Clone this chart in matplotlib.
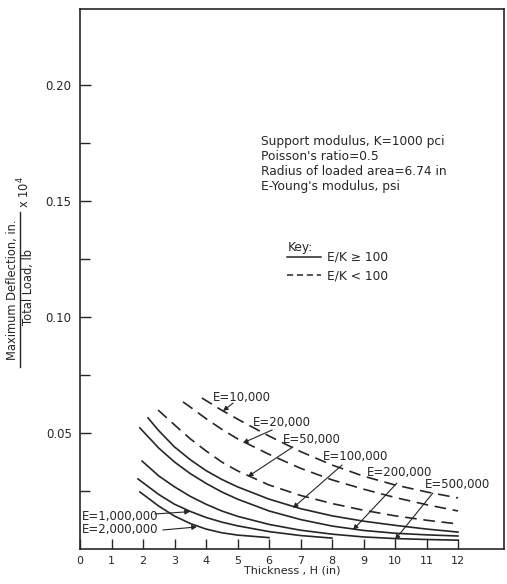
import matplotlib
matplotlib.use("Agg")
import matplotlib.pyplot as plt
from matplotlib.lines import Line2D

# curves: thickness H (in) vs deflection / load (x 10^4)
h_10k = [3.87, 4.5, 5, 6, 7, 8, 9, 10, 11, 12]
d_10k = [0.0651, 0.0598, 0.0560, 0.0487, 0.0420, 0.0362, 0.0314, 0.0276, 0.0246, 0.0220]

h_20k = [3.27, 3.5, 4, 4.5, 5, 6, 7, 8, 9, 10, 11, 12]
d_20k = [0.0634, 0.0612, 0.0562, 0.0516, 0.0475, 0.0408, 0.0348, 0.0298, 0.0258, 0.0222, 0.0191, 0.0164]

h_50k = [2.48, 3, 3.5, 4, 4.5, 5, 6, 7, 8, 9, 10, 11, 12]
d_50k = [0.0599, 0.0535, 0.0475, 0.0423, 0.0375, 0.0337, 0.0276, 0.0231, 0.0196, 0.0167, 0.0143, 0.0124, 0.0108]

h_100k = [2.16, 2.5, 3, 3.5, 4, 4.5, 5, 6, 7, 8, 9, 10, 11, 12]
d_100k = [0.0565, 0.0510, 0.0440, 0.0385, 0.0338, 0.0300, 0.0268, 0.0215, 0.0174, 0.0143, 0.0120, 0.0102, 0.0086, 0.0073]

h_200k = [1.9, 2.5, 3, 3.5, 4, 4.5, 5, 6, 7, 8, 9, 10, 11, 12]
d_200k = [0.0522, 0.0435, 0.0375, 0.0325, 0.0283, 0.0246, 0.0215, 0.0164, 0.0127, 0.0099, 0.0080, 0.0068, 0.0061, 0.0056]

h_500k = [1.97, 2.5, 3, 3.5, 4, 4.5, 5, 6, 7, 8, 9, 10, 11, 12]
d_500k = [0.0379, 0.0315, 0.0268, 0.0227, 0.0193, 0.0164, 0.0141, 0.0106, 0.0081, 0.0064, 0.0052, 0.0045, 0.0041, 0.0038]

h_1m = [1.84, 2.5, 3, 3.5, 4, 4.5, 5, 6, 7, 8]
d_1m = [0.0302, 0.0235, 0.0193, 0.0162, 0.0136, 0.0116, 0.0100, 0.0075, 0.0058, 0.0047]

h_2m = [1.9, 2.5, 3, 3.5, 4, 4.5, 5, 6]
d_2m = [0.0246, 0.0185, 0.0142, 0.0110, 0.0086, 0.0070, 0.0060, 0.0049]

curves = [
    (h_10k, d_10k, True), (h_20k, d_20k, True), (h_50k, d_50k, True),
    (h_100k, d_100k, False), (h_200k, d_200k, False), (h_500k, d_500k, False),
    (h_1m, d_1m, False), (h_2m, d_2m, False),
]

# label text, label position, arrow tail, arrow tip (data units)
labels = ["E=10,000", "E=20,000", "E=50,000", "E=100,000",
          "E=200,000", "E=500,000", "E=1,000,000", "E=2,000,000"]
label_xy = [(4.22, 0.0653), (5.49, 0.0547), (6.44, 0.0470), (7.71, 0.0397),
            (9.11, 0.0328), (10.95, 0.0276), (0.06, 0.0142), (0.06, 0.0086)]
arrow_from = [(4.86, 0.0629), (6.10, 0.0513), (6.76, 0.0440), (8.32, 0.0362),
              (10.06, 0.0284), (11.20, 0.0241), (2.38, 0.0151), (2.63, 0.0082)]
arrow_to = [(4.54, 0.0595), (5.17, 0.0457), (5.33, 0.0312), (6.76, 0.0177),
            (8.67, 0.0083), (10.0, 0.0040), (3.49, 0.0161), (3.71, 0.0095)]

notes = ["Support modulus, K=1000 pci", "Poisson's ratio=0.5",
         "Radius of loaded area=6.74 in", "E-Young's modulus, psi"]

ink = "#262626"
plt.rcParams['font.family'] = ['DejaVu Sans']

fig = plt.figure(figsize=(5.07, 5.84), dpi=100)
ax = fig.add_axes([80 / 507, 1 - 549 / 584, 424 / 507, 540 / 584])

for h, d, dashed in curves:
    ln, = ax.plot(h, d, color=ink, lw=1.2)
    if dashed:
        ln.set_dashes([7, 4])

for txt, (lx, ly), a0, a1 in zip(labels, label_xy, arrow_from, arrow_to):
    ax.text(lx, ly, txt, fontsize=8.5, color=ink, ha='left', va='center')
    ax.annotate("", xy=a1, xytext=a0,
                arrowprops=dict(arrowstyle='-|>', lw=0.8, color=ink,
                                mutation_scale=7, shrinkA=0, shrinkB=0))

ax.set_xlim(0, 424 / 31.5)
ax.set_ylim(0, 540 / 2320)
ax.set_xticks(range(0, 13))
ax.set_xticklabels([str(i) for i in range(0, 13)])
ax.set_yticks([0.05, 0.10, 0.15, 0.20])
ax.set_yticklabels(["0.05", "0.10", "0.15", "0.20"])
ax.set_yticks([0.025, 0.075, 0.125, 0.175], minor=True)
ax.tick_params(axis='both', which='both', direction='in', color=ink,
               labelcolor=ink, width=1.0)
ax.tick_params(axis='x', which='major', length=7, pad=5, labelsize=8)
ax.tick_params(axis='y', which='major', length=8, pad=6, labelsize=8.5)
ax.tick_params(axis='y', which='minor', length=7)
for s in ax.spines.values():
    s.set_color(ink)
    s.set_linewidth(1.2)

ax.set_xlabel("Thickness , H (in)", fontsize=8, color=ink, labelpad=0)

ax.text((261 - 80) / 424, (549 - 135) / 540, "\n".join(notes), transform=ax.transAxes,
        fontsize=8.8, color=ink, ha='left', va='top', linespacing=1.2)

# key
ax.text((288 - 80) / 424, (549 - 248) / 540, "Key:", transform=ax.transAxes,
        fontsize=8.8, color=ink, ha='left', va='center')
key_handles = [Line2D([], [], color=ink, lw=1.1),
               Line2D([], [], color=ink, lw=1.1, dashes=[4, 2.5])]
leg = ax.legend(key_handles, ["E/K \u2265 100", "E/K < 100"],
                loc='upper left', bbox_to_anchor=((287 - 80) / 424, (549 - 251) / 540),
                frameon=False, fontsize=8.8, borderpad=0,
                handlelength=2.8, handletextpad=0.5, labelspacing=0.42,
                borderaxespad=0)
for t in leg.get_texts():
    t.set_color(ink)

# y label as a fraction
fig.text(13 / 507, 1 - 290 / 584, "Maximum Deflection, in.", rotation=90,
         fontsize=8.3, color=ink, ha='center', va='center')
fig.add_artist(Line2D([20 / 507, 20 / 507], [1 - 367 / 584, 1 - 212 / 584],
                      color=ink, lw=1.0))
fig.text(28.5 / 507, 1 - 287 / 584, "Total Load, lb", rotation=90,
         fontsize=8.3, color=ink, ha='center', va='center')
fig.text(24 / 507, 1 - 192 / 584, r"x 10$^4$", rotation=90,
         fontsize=8.3, color=ink, ha='center', va='center')

fig.savefig("out.png", dpi=100)
